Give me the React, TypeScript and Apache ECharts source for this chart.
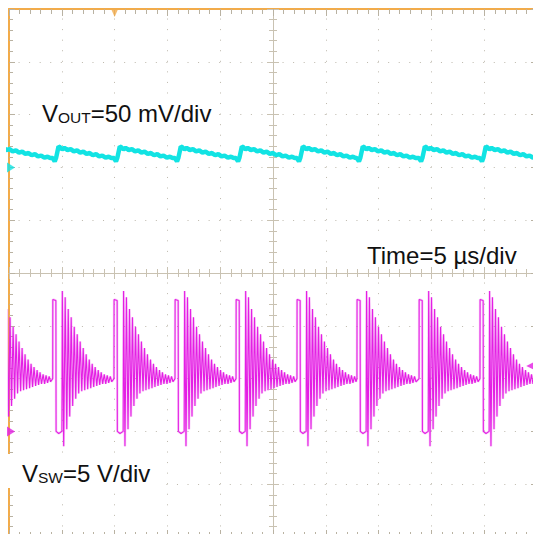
import React, { useEffect, useRef } from "react";
import * as echarts from "echarts";

// Time base: 10 divisions x 5 µs
const TIME_MIN_US = 0;
const TIME_MAX_US = 50;
const TIME_DIV_US = 5;
// Channel scales
const VSW_MIN_V = -10;
const VSW_MAX_V = 40;
const VSW_DIV_V = 5;
const VOUT_MIN_MV = -350;
const VOUT_MAX_MV = 150;
const VOUT_DIV_MV = 50;

// Rising edges of the switch node (µs)
const pulseStartsUs = [-1.65, 4.14, 9.94, 15.72, 21.5, 27.27, 32.95, 38.83, 44.6];

// One switching cycle of VSW (time after rising edge, µs / volts)
const vswCycleUs = [0, 0.01, 0.3, 0.32, 0.57, 0.87, 0.91, 1.04, 1.18, 1.33, 1.47, 1.61, 1.75, 1.89, 2.04, 2.18, 2.32, 2.46, 2.6, 2.75, 2.89, 3.03, 3.17, 3.31, 3.46, 3.6, 3.74, 3.88, 4.02, 4.17, 4.31, 4.45, 4.59, 4.73, 4.88, 5.02, 5.16, 5.3, 5.45, 5.59];
const vswCycleV = [5.0, 12.5, 12.4, 0.0, -0.2, 0.0, 13.3, -1.4, 12.7, 0.2, 11.6, 1.4, 10.8, 2.4, 9.9, 3.1, 9.2, 3.6, 8.5, 3.8, 7.9, 3.9, 7.3, 4.0, 6.8, 4.1, 6.4, 4.2, 6.1, 4.3, 5.8, 4.4, 5.6, 4.5, 5.4, 4.5, 5.3, 4.6, 5.2, 4.7];

// One cycle of the VOUT ripple (AC) (µs / mV)
const voutCycleUs = [0, 0.19, 0.33, 0.55, 0.7, 0.9, 1.1, 1.4, 1.7, 2.0, 2.3, 2.6, 2.9, 3.2, 3.5, 3.8, 4.1, 4.4, 4.7, 5.0, 5.3, 5.55];
const voutCycleMv = [8.9, 5.7, 9.5, 19.8, 19.0, 17.2, 18.4, 16.5, 17.3, 15.2, 16.1, 14.0, 14.9, 12.8, 13.6, 11.5, 12.6, 10.4, 11.2, 9.3, 10.1, 8.8];

// Markers
const triggerTimeUs = 10;
const triggerLevelV = 6.2;
const rightEdgeUs = 49.6;

const ORANGE = "#f2ab4a";
const GRID_DOT = "#bdb8ac";
const CROSS = "#c9c2b2";
const TICK = "#b9b2a2";
const CYAN = "#12e3e3";
const MAGENTA = "#e41ee4";
const FONT = "Liberation Sans, Arial, sans-serif";

function buildTrace(starts: number[], ts: number[], vs: number[]) {
  const out: number[][] = [];
  starts.forEach((s) => {
    ts.forEach((t, i) => out.push([+(s + t).toFixed(3), vs[i]]));
  });
  return out;
}

export default function App() {
  const ref = useRef<HTMLDivElement>(null);
  useEffect(() => {
    if (!ref.current) return;
    const chart = echarts.init(ref.current, null, { renderer: "svg" });
    const dotted = (color: string) => ({
      show: true,
      lineStyle: { color, width: 1, type: [1, 9.56], dashOffset: 0.5 },
    });
    const timeAxisBase = {
      type: "value",
      min: TIME_MIN_US,
      max: TIME_MAX_US,
      interval: TIME_DIV_US,
      axisLabel: { show: false },
    };
    const vswAxisBase = {
      type: "value",
      min: VSW_MIN_V,
      max: VSW_MAX_V,
      interval: VSW_DIV_V,
      axisLabel: { show: false },
    };
    const vswData = buildTrace(pulseStartsUs, vswCycleUs, vswCycleV);
    const option: any = {
      animation: false,
      backgroundColor: "#ffffff",
      grid: { left: 9, top: 9, width: 528, height: 528, show: false, containLabel: false, outerBoundsMode: "none" },
      xAxis: [
        {
          ...timeAxisBase,
          position: "bottom",
          axisLine: { show: true, onZero: false, lineStyle: { color: ORANGE, width: 2 } },
          axisTick: { show: true, inside: true, length: 7, lineStyle: { color: TICK } },
          minorTick: { show: true, splitNumber: 5, length: 5, lineStyle: { color: TICK } },
          splitLine: dotted(GRID_DOT),
        },
        {
          ...timeAxisBase,
          position: "top",
          axisLine: { show: true, onZero: false, lineStyle: { color: ORANGE, width: 2 } },
          axisTick: { show: true, inside: true, length: 7, lineStyle: { color: TICK } },
          minorTick: { show: true, splitNumber: 5, length: 5, lineStyle: { color: TICK } },
          splitLine: { show: false },
        },
        {
          ...timeAxisBase,
          position: "bottom",
          axisLine: { show: true, onZero: true, onZeroAxisIndex: 2, lineStyle: { color: CROSS, width: 1 } },
          axisTick: { show: true, inside: true, length: 6, lineStyle: { color: CROSS } },
          minorTick: { show: true, splitNumber: 5, length: 4, lineStyle: { color: CROSS } },
          splitLine: { show: false },
        },
        {
          ...timeAxisBase,
          position: "bottom",
          axisLine: { show: true, onZero: true, onZeroAxisIndex: 2, lineStyle: { color: CROSS, width: 1 } },
          axisTick: { show: true, inside: false, length: 6, lineStyle: { color: CROSS } },
          minorTick: { show: true, splitNumber: 5, length: 4, lineStyle: { color: CROSS } },
          splitLine: { show: false },
        },
        { type: "value", min: -25, max: 25, show: false },
      ],
      yAxis: [
        {
          ...vswAxisBase,
          position: "left",
          axisLine: { show: true, onZero: false, lineStyle: { color: ORANGE, width: 2 } },
          axisTick: { show: true, inside: true, length: 6, lineStyle: { color: TICK } },
          minorTick: { show: true, splitNumber: 5, length: 4, lineStyle: { color: TICK } },
          splitLine: dotted(GRID_DOT),
        },
        {
          type: "value",
          min: VOUT_MIN_MV,
          max: VOUT_MAX_MV,
          interval: VOUT_DIV_MV,
          position: "right",
          axisLabel: { show: false },
          axisLine: { show: true, onZero: false, lineStyle: { color: ORANGE, width: 2 } },
          axisTick: { show: true, inside: true, length: 6, lineStyle: { color: TICK } },
          minorTick: { show: true, splitNumber: 5, length: 4, lineStyle: { color: TICK } },
          splitLine: { show: false },
        },
        { type: "value", min: -5, max: 5, show: false },
        {
          ...vswAxisBase,
          position: "left",
          axisLine: { show: true, onZero: true, onZeroAxisIndex: 4, lineStyle: { color: CROSS, width: 1 } },
          axisTick: { show: true, inside: true, length: 6, lineStyle: { color: CROSS } },
          minorTick: { show: true, splitNumber: 5, length: 4, lineStyle: { color: CROSS } },
          splitLine: { show: false },
        },
        {
          ...vswAxisBase,
          position: "left",
          axisLine: { show: true, onZero: true, onZeroAxisIndex: 4, lineStyle: { color: CROSS, width: 1 } },
          axisTick: { show: true, inside: false, length: 6, lineStyle: { color: CROSS } },
          minorTick: { show: true, splitNumber: 5, length: 4, lineStyle: { color: CROSS } },
          splitLine: { show: false },
        },
      ],
      series: [
        {
          name: "VOUT",
          type: "line",
          xAxisIndex: 0,
          yAxisIndex: 1,
          data: buildTrace(pulseStartsUs, voutCycleUs, voutCycleMv),
          showSymbol: false,
          symbol: "none",
          clip: true,
          lineStyle: { color: CYAN, width: 4.5 },
          z: 3,
        },
        {
          name: "VSW haze",
          type: "line",
          xAxisIndex: 0,
          yAxisIndex: 0,
          data: vswData,
          showSymbol: false,
          symbol: "none",
          clip: true,
          silent: true,
          lineStyle: { color: MAGENTA, width: 2.5, opacity: 0.22 },
          z: 3,
        },
        {
          name: "VSW",
          type: "line",
          xAxisIndex: 0,
          yAxisIndex: 0,
          data: vswData,
          showSymbol: false,
          symbol: "none",
          clip: true,
          lineStyle: { color: MAGENTA, width: 1.1 },
          z: 4,
        },
        {
          type: "scatter",
          xAxisIndex: 0,
          yAxisIndex: 1,
          data: [[TIME_MIN_US, 0]],
          symbol: "triangle",
          symbolRotate: -90,
          symbolSize: [10, 8],
          symbolOffset: [2, 0],
          itemStyle: { color: CYAN },
          clip: false,
          silent: true,
          z: 6,
        },
        {
          type: "scatter",
          xAxisIndex: 0,
          yAxisIndex: 0,
          data: [[TIME_MIN_US, 0]],
          symbol: "triangle",
          symbolRotate: -90,
          symbolSize: [10, 8],
          symbolOffset: [2, 0],
          itemStyle: { color: MAGENTA },
          clip: false,
          silent: true,
          z: 6,
        },
        {
          type: "scatter",
          xAxisIndex: 0,
          yAxisIndex: 0,
          data: [[triggerTimeUs, VSW_MAX_V]],
          symbol: "triangle",
          symbolRotate: 180,
          symbolSize: [7, 8],
          symbolOffset: [0, 4],
          itemStyle: { color: ORANGE },
          clip: false,
          silent: true,
          z: 6,
        },
        {
          type: "scatter",
          xAxisIndex: 0,
          yAxisIndex: 0,
          data: [[rightEdgeUs, triggerLevelV]],
          symbol: "triangle",
          symbolRotate: 90,
          symbolSize: [7, 7],
          symbolOffset: [-3, 0],
          itemStyle: { color: MAGENTA },
          clip: false,
          silent: true,
          z: 6,
        },
      ],
      graphic: [
        { type: "rect", z: 50, shape: { x: 36, y: 96, width: 180, height: 35 }, style: { fill: "#ffffff" } },
        { type: "rect", z: 50, shape: { x: 360, y: 236, width: 164, height: 30 }, style: { fill: "#ffffff" } },
        { type: "rect", z: 50, shape: { x: 0, y: 454, width: 165, height: 34 }, style: { fill: "#ffffff" } },
        {
          type: "text",
          z: 51,
          x: 42,
          y: 113.5,
          style: {
            text: "{a|V}{b|OUT}{a|=50 mV/div}",
            verticalAlign: "middle",
            rich: {
              a: { fontSize: 24, fontFamily: FONT, fill: "#111", verticalAlign: "bottom" },
              b: { fontSize: 15.5, fontFamily: FONT, fill: "#111", verticalAlign: "bottom" },
            },
          },
        },
        {
          type: "text",
          z: 51,
          x: 367,
          y: 255,
          style: { text: "Time=5 µs/div", fontSize: 24, fontFamily: FONT, fill: "#111", verticalAlign: "middle" },
        },
        {
          type: "text",
          z: 51,
          x: 22,
          y: 473,
          style: {
            text: "{a|V}{b|SW}{a|=5 V/div}",
            verticalAlign: "middle",
            rich: {
              a: { fontSize: 24, fontFamily: FONT, fill: "#111", verticalAlign: "bottom" },
              b: { fontSize: 15.5, fontFamily: FONT, fill: "#111", verticalAlign: "bottom" },
            },
          },
        },
      ],
    };
    chart.setOption(option);
    return () => chart.dispose();
  }, []);
  return <div ref={ref} style={{ position: "absolute", left: 0, top: 0, width: 533, height: 534 }} />;
}
